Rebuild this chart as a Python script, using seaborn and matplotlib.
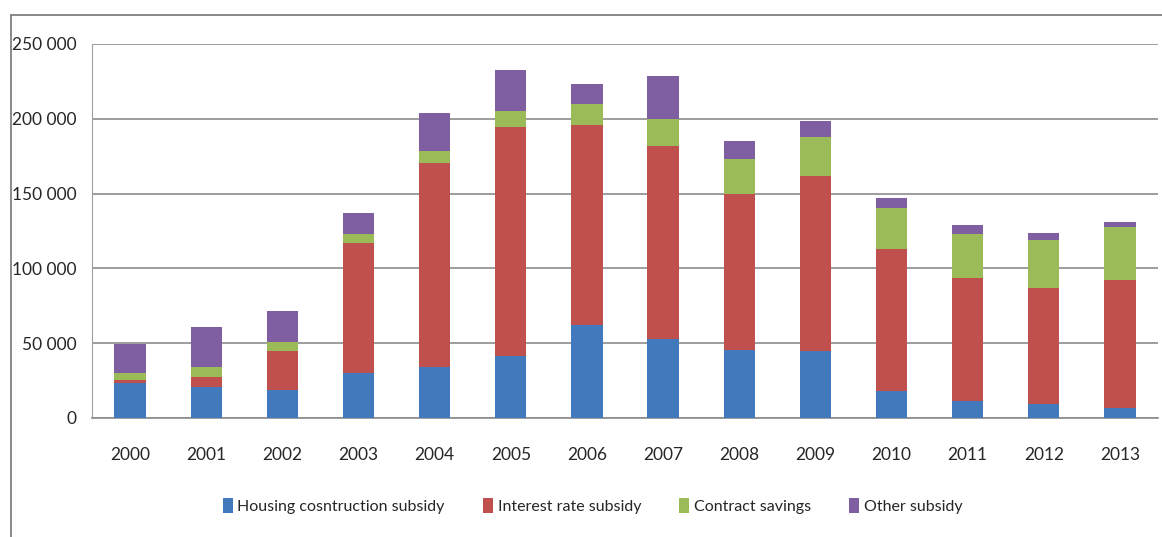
import pandas as pd
import seaborn as sns
import matplotlib.pyplot as plt
import numpy as np
from matplotlib.lines import Line2D
from matplotlib.patches import Patch

# Data
years = ['2000', '2001', '2002', '2003', '2004', '2005', '2006',
         '2007', '2008', '2009', '2010', '2011', '2012', '2013']
housing = [23300, 20700, 18500, 30000, 34000, 41600, 62000,
           53100, 45600, 44700, 17800, 11100, 9600, 6900]
interest = [1800, 6600, 26200, 87100, 136500, 152900, 134000,
            128900, 104200, 116900, 95100, 82200, 77100, 85600]
contract = [4900, 6700, 5800, 5800, 8200, 10400, 13800,
            18000, 23300, 26200, 27400, 29600, 32600, 35300]
other = [19300, 26500, 21300, 14000, 24900, 27400, 13300,
         28300, 12300, 10700, 6600, 5800, 4500, 3300]

labels = ['Housing cosntruction subsidy', 'Interest rate subsidy',
          'Contract savings', 'Other subsidy']
colors = ['#4279BD', '#C0504D', '#9BBB59', '#7F5FA1']

df = pd.DataFrame({'year': years, 'housing': housing, 'interest': interest,
                   'contract': contract, 'other': other})
# cumulative tops, drawn from the tallest down
df['c1'] = df['housing']
df['c2'] = df['c1'] + df['interest']
df['c3'] = df['c2'] + df['contract']
df['c4'] = df['c3'] + df['other']

sns.set_style('white')
plt.rcParams['font.family'] = ['Lato', 'DejaVu Sans']

fig = plt.figure(figsize=(11.62, 5.37), dpi=100)
ax = fig.add_axes([92 / 1162, 1 - 418 / 537, 1066 / 1162, 374 / 537])

for col, c in zip(['c4', 'c3', 'c2', 'c1'], colors[::-1]):
    sns.barplot(data=df, x='year', y=col, color=c, width=0.41,
                saturation=1, ax=ax, linewidth=0, zorder=3)

ax.set_ylim(0, 250000)
ax.set_xlim(-0.5, 13.5)
ax.set_yticks(np.arange(0, 250001, 50000))
ax.set_yticklabels([f'{v:,}'.replace(',', ' ') for v in range(0, 250001, 50000)])
ax.set_xlabel('')
ax.set_ylabel('')
ax.grid(axis='y', color='#8c8c8c', linewidth=1.2, zorder=0)
ax.set_axisbelow(True)

for s in ['top', 'right']:
    ax.spines[s].set_visible(False)
ax.spines['left'].set_color('#a0a0a0')
ax.spines['bottom'].set_color('#8c8c8c')
ax.spines['bottom'].set_linewidth(1.2)

# ticks between categories on x, outward ticks on y
ax.set_xticks(np.arange(0, 14))
ax.set_xticks(np.arange(-0.5, 14.0, 1), minor=True)
ax.tick_params(axis='x', which='major', length=0, pad=21, labelsize=12.5)
ax.tick_params(axis='x', which='minor', length=8, color='#8c8c8c', width=1)
ax.tick_params(axis='y', length=5, color='#a0a0a0', width=1, pad=6, labelsize=12.5)

handles = [Patch(facecolor=c, edgecolor='none') for c in colors]
fig.legend(handles, labels, loc='center', bbox_to_anchor=(0.51, 1 - 506 / 537),
           ncol=4, frameon=False, fontsize=11.5, handlelength=0.6,
           handleheight=1.1, handletextpad=0.3, columnspacing=2.4)

# outer chart frame
fig.add_artist(Line2D([11 / 1162, 11 / 1162], [0, 1 - 15 / 537],
                      color='#808080', linewidth=1.3))
fig.add_artist(Line2D([11 / 1162, 1], [1 - 15 / 537, 1 - 15 / 537],
                      color='#808080', linewidth=1.3))

fig.savefig('out.png', dpi=100)
